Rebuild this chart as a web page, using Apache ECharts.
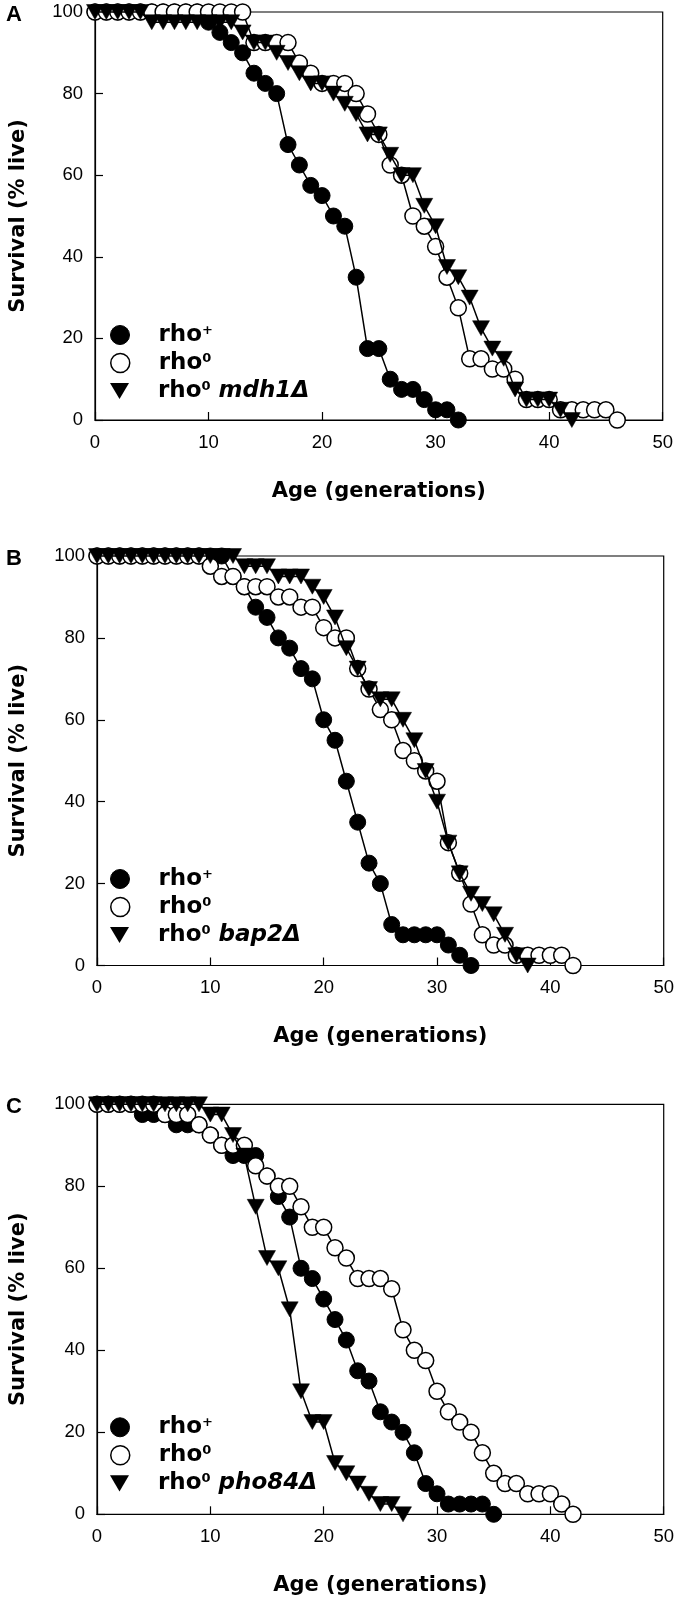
<!DOCTYPE html>
<html><head><meta charset="utf-8">
<script src="https://cdn.jsdelivr.net/npm/echarts@6/dist/echarts.min.js"></script>
<style>html,body{margin:0;padding:0;background:#fff}#c{width:677px;height:1601px}</style>
</head><body><div id="c"></div>
<script>
// ---- data: survival (% live) at age = index (generations) ----
const A_rhoPlus = [100,100,100,100,100,100,100,100,100,100,97.5,95,92.5,90,85,82.5,80,67.5,62.5,57.5,55,50,47.5,35,17.5,17.5,10,7.5,7.5,5,2.5,2.5,0];
const A_rho0 = [100,100,100,100,100,100,100,100,100,100,100,100,100,100,92.5,92.5,92.5,92.5,87.5,85,82.5,82.5,82.5,80,75,70,62.5,60,50,47.5,42.5,35,27.5,15,15,12.5,12.5,10,5,5,5,2.5,2.5,2.5,2.5,2.5,0];
const A_mdh1 = [100,100,100,100,100,97.5,97.5,97.5,97.5,97.5,97.5,97.5,97.5,95,92.5,92.5,90,87.5,85,82.5,82.5,80,77.5,75,70,70,65,60,60,52.5,47.5,37.5,35,30,22.5,17.5,15,7.5,5,5,5,2.5,0];

const B_rhoPlus = [100,100,100,100,100,100,100,100,100,100,100,100,95,92.5,87.5,85,80,77.5,72.5,70,60,55,45,35,25,20,10,7.5,7.5,7.5,7.5,5,2.5,0];
const B_rho0 = [100,100,100,100,100,100,100,100,100,100,97.5,95,95,92.5,92.5,92.5,90,90,87.5,87.5,82.5,80,80,72.5,67.5,62.5,60,52.5,50,47.5,45,30,22.5,15,7.5,5,5,2.5,2.5,2.5,2.5,2.5,0];
const B_bap2 = [100,100,100,100,100,100,100,100,100,100,100,100,100,97.5,97.5,97.5,95,95,95,92.5,90,85,77.5,72.5,67.5,65,65,60,55,47.5,40,30,22.5,17.5,15,12.5,7.5,2.5,0];

const C_rhoPlus = [100,100,100,100,97.5,97.5,97.5,95,95,95,92.5,90,87.5,87.5,87.5,82.5,77.5,72.5,60,57.5,52.5,47.5,42.5,35,32.5,25,22.5,20,15,7.5,5,2.5,2.5,2.5,2.5,0];
const C_rho0 = [100,100,100,100,100,100,97.5,97.5,97.5,95,92.5,90,90,90,85,82.5,80,80,75,70,70,65,62.5,57.5,57.5,57.5,55,45,40,37.5,30,25,22.5,20,15,10,7.5,7.5,5,5,5,2.5,0];
const C_pho84 = [100,100,100,100,100,100,100,100,100,100,97.5,97.5,92.5,87.5,75,62.5,60,50,30,22.5,22.5,12.5,10,7.5,5,2.5,2.5,0];

const panelLetters = ['A','B','C'];
const mutantNames = ['mdh1Δ','bap2Δ','pho84Δ'];
const xName = 'Age (generations)';
const yName = 'Survival (% live)';

const panels = [
  [A_rhoPlus, A_rho0, A_mdh1],
  [B_rhoPlus, B_rho0, B_bap2],
  [C_rhoPlus, C_rho0, C_pho84]
];

// ---- layout ----
const gridBoxes = [
  {left: 90.7, top: 12, width: 572, height: 408},
  {left: 93, top: 556, width: 571.5, height: 409.5},
  {left: 93, top: 1104.3, width: 571.5, height: 410}
];
const legendRowOffsets = [322, 350, 378]; // row centre offsets from grid top
const BOLD = 'DejaVu Sans';
const REG = 'Liberation Sans';
const triPath = 'path://M0,0 L20,0 L10,17 Z';

const chart = echarts.init(document.getElementById('c'), null, {renderer: 'canvas'});

const grid = [], xAxis = [], yAxis = [], series = [], legend = [], graphic = [];
const kinds = ['rhoPlus', 'rho0', 'mut'];
const richStyles = {
  t: {fontFamily: BOLD, fontWeight: 'bold', fontSize: 23, lineHeight: 22, padding: [0, 0, 0, 24], color: '#000'},
  s: {fontFamily: BOLD, fontWeight: 'bold', fontSize: 13, lineHeight: 13, verticalAlign: 'top', color: '#000'},
  w: {fontFamily: BOLD, fontWeight: 'bold', fontSize: 23, lineHeight: 22, color: '#000'},
  i: {fontFamily: BOLD, fontWeight: 'bold', fontStyle: 'italic', fontSize: 23, lineHeight: 22, color: '#000'}
};
function legendLabel(n) {
  const label = n.split('|')[1];
  if (label === 'rho+') return '{t|rho}{s|+}';
  if (label === 'rho0') return '{t|rho}{s|0}';
  return '{t|rho}{s|0}{w| }{i|' + label.split(' ')[1] + '}';
}

panels.forEach((sets, p) => {
  const g = gridBoxes[p];
  grid.push({left: g.left, top: g.top, width: g.width, height: g.height,
    show: true, borderColor: '#000', borderWidth: 1.2, backgroundColor: 'transparent', containLabel: false});
  xAxis.push({
    type: 'value', gridIndex: p, min: 0, max: 50, interval: 10,
    name: xName, nameLocation: 'middle', nameGap: 61,
    nameTextStyle: {fontFamily: BOLD, fontWeight: 'bold', fontSize: 21, color: '#000'},
    axisLine: {show: true, lineStyle: {color: '#000', width: 1.2}},
    axisTick: {show: true, inside: true, length: 8, lineStyle: {color: '#000', width: 1.2}},
    axisLabel: {fontFamily: REG, fontSize: 18.5, color: '#000', margin: 13},
    splitLine: {show: false}
  });
  yAxis.push({
    type: 'value', gridIndex: p, min: 0, max: 100, interval: 20,
    name: yName, nameLocation: 'middle', nameRotate: 90, nameGap: p === 0 ? 66 : 68,
    nameTextStyle: {fontFamily: BOLD, fontWeight: 'bold', fontSize: 21, color: '#000'},
    axisLine: {show: true, lineStyle: {color: '#000', width: 1.2}},
    axisTick: {show: true, inside: true, length: 8, lineStyle: {color: '#000', width: 1.2}},
    axisLabel: {fontFamily: REG, fontSize: 18.5, color: '#000', margin: 12},
    splitLine: {show: false}
  });
  const names = [p + '|rho+', p + '|rho0', p + '|rho0 ' + mutantNames[p]];
  const legendItems = [
    {name: names[0], icon: 'circle', itemStyle: {color: '#000', borderColor: '#000', borderWidth: 1}},
    {name: names[1], icon: 'circle', itemStyle: {color: '#fff', borderColor: '#000', borderWidth: 1.5}},
    {name: names[2], icon: triPath, itemStyle: {color: '#000', borderColor: '#000', borderWidth: 0}}
  ];
  sets.forEach((vals, k) => {
    const kind = kinds[k];
    const s = {
      name: names[k], type: 'line', xAxisIndex: p, yAxisIndex: p,
      data: vals.map((v, i) => [i, v]),
      clip: false, animation: false, z: 2 + k,
      lineStyle: {color: '#000', width: 1.5},
      emphasis: {disabled: true}
    };
    if (kind === 'rhoPlus') {
      s.symbol = 'circle'; s.symbolSize = 16;
      s.itemStyle = {color: '#000', borderColor: '#000', borderWidth: 1};
    } else if (kind === 'rho0') {
      s.symbol = 'circle'; s.symbolSize = 16;
      s.itemStyle = {color: '#fff', borderColor: '#000', borderWidth: 1.5};
    } else {
      s.symbol = triPath; s.symbolSize = [17, 15];
      s.itemStyle = {color: '#000', borderColor: '#000', borderWidth: 0.5};
    }
    series.push(s);
    legend.push({
      orient: 'vertical', left: 110, top: g.top + legendRowOffsets[k] - 10.5,
      itemWidth: 19, itemHeight: 19, itemGap: 0, padding: 0,
      selectedMode: false,
      data: [legendItems[k]],
      formatter: legendLabel,
      textStyle: {color: '#000', rich: richStyles}
    });
  });
  graphic.push({type: 'text', x: 6, y: g.top + 3,
    style: {text: panelLetters[p], fontFamily: REG, fontWeight: 'bold', fontSize: 22, fill: '#000', verticalAlign: 'middle'}});
});

chart.setOption({
  backgroundColor: '#fff',
  animation: false,
  grid, xAxis, yAxis, series, legend, graphic
});
</script>
</body></html>
